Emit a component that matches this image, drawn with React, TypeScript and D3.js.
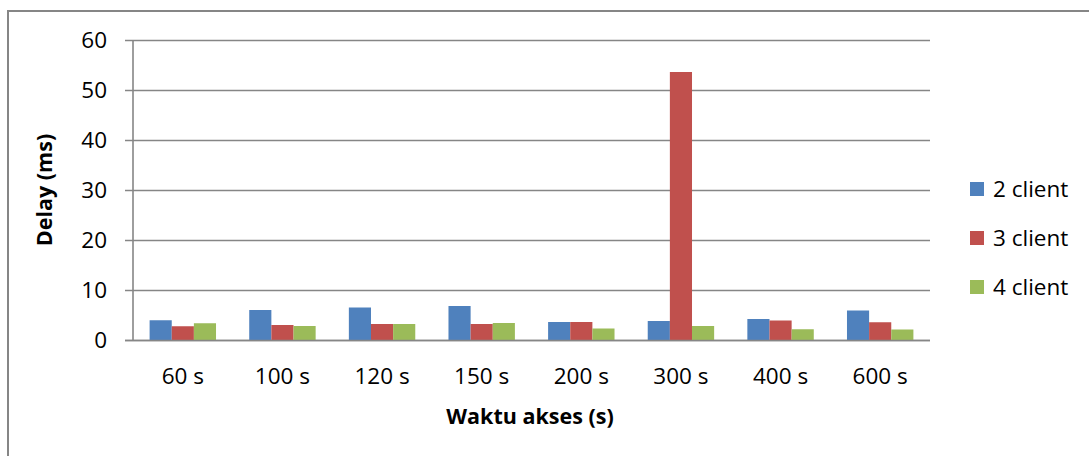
import React from 'react';
import * as d3 from 'd3';

// data
const categories = ['60 s', '100 s', '120 s', '150 s', '200 s', '300 s', '400 s', '600 s'];
const seriesNames = ['2 client', '3 client', '4 client'];
const client2 = [4.05, 6.1, 6.6, 6.9, 3.7, 3.9, 4.3, 6.0];
const client3 = [2.85, 3.1, 3.3, 3.3, 3.7, 53.7, 4.0, 3.65];
const client4 = [3.45, 2.9, 3.3, 3.5, 2.4, 2.9, 2.25, 2.2];
const yTicks = [0, 10, 20, 30, 40, 50, 60];
const colors = ['#4F81BD', '#C0504D', '#9BBB59'];

const width = 1089;
const height = 456;
const font = "'Open Sans', sans-serif";

export default function App() {
  const series = [client2, client3, client4];
  const plot = { left: 133, right: 930, top: 40.5, bottom: 340.5 };

  const x = d3.scaleBand<string>().domain(categories).range([plot.left, plot.right]).paddingInner(0).paddingOuter(0);
  const bar = x.bandwidth() / 4.5;
  const xInner = d3
    .scaleBand<number>()
    .domain([0, 1, 2])
    .range([(x.bandwidth() - bar * 3) / 2, (x.bandwidth() + bar * 3) / 2]);
  const y = d3.scaleLinear().domain([0, 60]).range([plot.bottom, plot.top]);

  return (
    <svg width={width} height={height} style={{ position: 'absolute', left: 0, top: 0, background: '#fff' }}>
      {/* chart frame */}
      <rect x={8} y={11} width={1100} height={460} fill='#fff' stroke='#868686' strokeWidth={2} />

      {/* grid + y axis */}
      {yTicks.map((t) => (
        <g key={t}>
          <line x1={plot.left - 8} x2={plot.right} y1={y(t)} y2={y(t)} stroke='#868686' strokeWidth={1.6} />
          <text x={107} y={y(t)} dy='0.35em' textAnchor='end' fontFamily={font} fontSize={22.5} fill='#000'>
            {t}
          </text>
        </g>
      ))}
      <line x1={plot.left} x2={plot.left} y1={plot.top} y2={plot.bottom} stroke='#868686' strokeWidth={1.6} />

      {/* bars */}
      {categories.map((c, i) => (
        <g key={c} transform={`translate(${x(c)},0)`}>
          {series.map((s, j) => (
            <rect
              key={j}
              x={xInner(j)}
              y={y(s[i])}
              width={xInner.bandwidth()}
              height={y(0) - y(s[i])}
              fill={colors[j]}
            />
          ))}
          <text
            x={x.bandwidth() / 2}
            y={384}
            textAnchor='middle'
            fontFamily={font}
            fontSize={22.5}
            fill='#000'
          >
            {c}
          </text>
        </g>
      ))}
      <line x1={plot.left - 8} x2={plot.right} y1={y(0)} y2={y(0)} stroke='#868686' strokeWidth={1.6} />

      {/* axis titles */}
      <text x={530} y={424} textAnchor='middle' fontFamily={font} fontSize={21.5} fontWeight='bold' fill='#000'>
        Waktu akses (s)
      </text>
      <text
        transform='translate(44,190) rotate(-90)'
        textAnchor='middle'
        dy='0.35em'
        fontFamily={font}
        fontSize={21.5}
        fontWeight='bold'
        fill='#000'
      >
        Delay (ms)
      </text>

      {/* legend */}
      {seriesNames.map((n, i) => (
        <g key={n} transform={`translate(970,${189 + i * 49})`}>
          <rect x={0} y={-7} width={14} height={14} fill={colors[i]} />
          <text x={23} y={0} dy='0.35em' fontFamily={font} fontSize={22.5} fill='#000'>
            {n}
          </text>
        </g>
      ))}
    </svg>
  );
}
